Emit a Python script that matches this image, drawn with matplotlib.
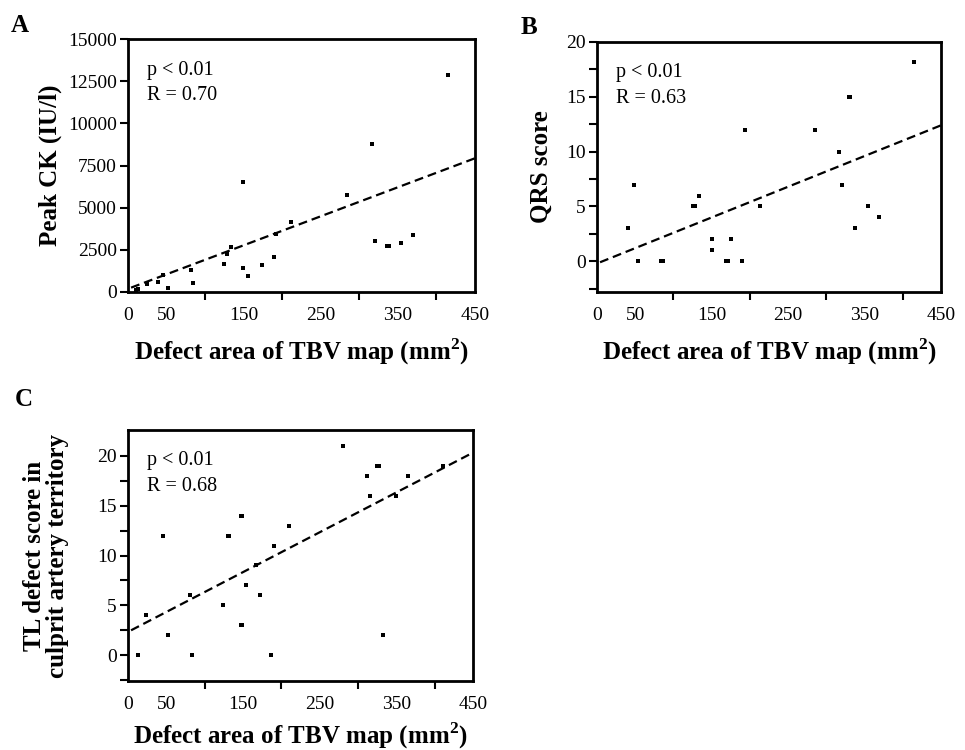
import numpy as np
import matplotlib
matplotlib.use("Agg")
import matplotlib.pyplot as plt

plt.rcParams['font.family'] = ['Liberation Serif', 'DejaVu Serif']
plt.rcParams['mathtext.fontset'] = 'custom'
plt.rcParams['mathtext.rm'] = 'Liberation Serif'
plt.rcParams['mathtext.bf'] = 'Liberation Serif:bold'

# panel A: defect area vs peak CK
area_a = [11, 13, 24, 39, 45, 52, 82, 84, 125, 128, 133, 149, 149, 155, 174, 189,
          192, 212, 284, 316, 320, 336, 338, 354, 369, 415]
ck_a = [140, 200, 500, 600, 1000, 250, 1300, 550, 1650, 2250, 2650, 6500, 1400, 950,
        1600, 2100, 3450, 4150, 5750, 8750, 3050, 2750, 2700, 2900, 3350, 12850]
fit_a = (190, 17.2)  # intercept, slope

# panel B: defect area vs QRS score
area_b = [40, 48, 53, 84, 86, 126, 128, 134, 150, 150, 169, 171, 175, 190, 194, 213,
          285, 317, 320, 329, 331, 338, 354, 369, 415]
qrs_b = [3, 7, 0, 0, 0, 5, 5, 6, 2, 1, 0, 0, 2, 0, 12, 5, 12, 10, 7, 15, 15, 3, 5, 4, 18.2]
fit_b = (-0.2, 0.028)

# panel C: defect area vs TL defect score
area_c = [13, 24, 46, 52, 81, 83, 124, 130, 132, 147, 149, 147, 149, 154, 167, 172,
          187, 190, 210, 280, 312, 315, 325, 327, 333, 350, 365, 411]
tl_c = [0, 4, 12, 2, 6, 0, 5, 12, 12, 14, 14, 3, 3, 7, 9, 6, 0, 11, 13, 21, 18, 16,
        19, 19, 2, 16, 18, 19]
fit_c = (2.33, 0.04)

xlabel = r'Defect area of TBV map (mm$^{\mathbf{2}}$)'
W, H = 965, 750


def make_ax(l, t, r, b):
    return fig.add_axes([l / W, 1 - b / H, (r - l) / W, (b - t) / H])


def style(ax, ylim, yticks, yminor=None, xpad=9):
    ax.set_xlim(0, 450)
    ax.set_ylim(*ylim)
    ax.set_xticks([0, 50, 150, 250, 350, 450])
    ax.set_xticks([0, 100, 200, 300, 400], minor=True)
    ax.tick_params(axis='x', which='major', length=0, pad=11, labelsize=14)
    ax.tick_params(axis='x', which='minor', length=6, width=1.5)
    ax.set_yticks(yticks)
    if yminor is not None:
        ax.set_yticks(yminor, minor=True)
    ax.tick_params(axis='y', which='major', length=6, width=1.5, labelsize=14, pad=2)
    ax.tick_params(axis='y', which='minor', length=6, width=1.5)
    for s in ax.spines.values():
        s.set_linewidth(2)
    ax.set_xlabel(xlabel, fontsize=18, fontweight='bold', labelpad=xpad)


def panel(ax, x, y, fit, r):
    ax.plot(x, y, 's', color='black', ms=3.2, mew=0)
    xs = np.array([4, 450])
    ax.plot(xs, fit[0] + fit[1] * xs, '--', color='black', lw=1.6, dashes=(4, 2.2))
    ax.text(0.055, 0.915, 'p < 0.01\nR = ' + r, transform=ax.transAxes,
            fontsize=14.5, va='top', ha='left', linespacing=1.45)


fig = plt.figure(figsize=(9.65, 7.5), dpi=100)

ax_a = make_ax(128, 39, 475, 292)
panel(ax_a, area_a, ck_a, fit_a, '0.70')
style(ax_a, (0, 15000), np.arange(0, 15001, 2500))
ax_a.set_ylabel('Peak CK (IU/l)', fontsize=18, fontweight='bold', labelpad=4)

ax_b = make_ax(597, 42, 941, 292)
panel(ax_b, area_b, qrs_b, fit_b, '0.63')
style(ax_b, (-2.8, 20), [0, 5, 10, 15, 20], [-2.5, 2.5, 7.5, 12.5, 17.5])
ax_b.set_ylabel('QRS score', fontsize=18, fontweight='bold', labelpad=10)

ax_c = make_ax(128, 430, 473, 681)
panel(ax_c, area_c, tl_c, fit_c, '0.68')
style(ax_c, (-2.6, 22.6), [0, 5, 10, 15, 20], [-2.5, 2.5, 7.5, 12.5, 17.5], xpad=5)
ax_c.set_ylabel('TL defect score in\nculprit artery territory', fontsize=18,
                fontweight='bold', labelpad=20, linespacing=1.0)

for lab, x, y in [('A', 20, 25), ('B', 529, 27), ('C', 24, 400)]:
    fig.text(x / W, 1 - y / H, lab, fontsize=18, fontweight='bold', ha='center', va='center')

fig.savefig('out.png', dpi=100)
